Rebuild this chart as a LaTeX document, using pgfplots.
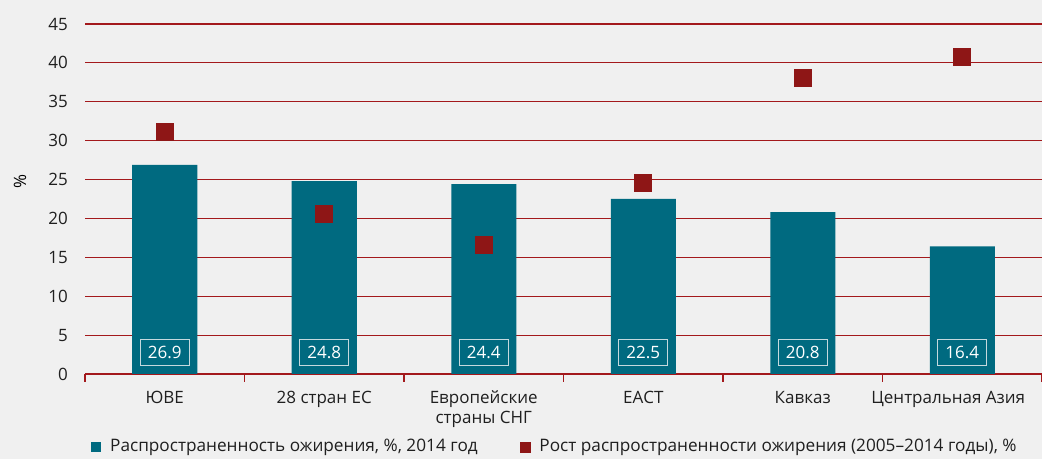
\documentclass[border=0pt]{standalone}
\usepackage{pgfplots}
\pgfplotsset{compat=1.18}
\usepackage{fontspec}
\setmainfont{Open Sans}
\definecolor{bgcol}{HTML}{F0F0F0}
\definecolor{barblue}{HTML}{006A80}
\definecolor{mkred}{HTML}{8E1616}
\definecolor{gridred}{HTML}{A3191C}
\definecolor{boxline}{HTML}{C5D9DE}
\begin{document}
\begin{tikzpicture}
\fill[bgcol] (0,0) rectangle (521pt,229.5pt);
\useasboundingbox (0,0) rectangle (521pt,229.5pt);
\begin{axis}[
  at={(42.5pt,42.5pt)}, anchor=south west,
  scale only axis, width=478.5pt, height=175pt,
  xmin=-0.5, xmax=5.5, ymin=0, ymax=45,
  ytick={0,5,...,45},
  xtick={0,1,2,3,4,5},
  xticklabels={ЮВЕ,28 стран ЕС,{Европейские\\страны СНГ},ЕАСТ,Кавказ,Центральная Азия\hspace*{14pt}},
  font=\fontsize{8.5}{10}\selectfont,
  tick label style={font=\fontsize{8.5}{10}\selectfont},
  /pgf/number format/assume math mode=true,
  xticklabel style={align=center, yshift=-5pt, text=black!88},
  yticklabel style={xshift=-5pt, text=black!88},
  axis x line*=bottom, axis y line*=left,
  y axis line style={draw=none},
  x axis line style={draw=gridred, line width=0.6pt},
  xtick style={draw=none}, ytick style={draw=none},
  extra x ticks={-0.5,0.5,1.5,2.5,3.5,4.5,5.5},
  extra x tick labels={},
  extra x tick style={xtick style={draw=gridred, line width=0.6pt}, major tick length=4pt, tick align=outside},
  ymajorgrids, grid style={draw=gridred, line width=0.55pt},
  ylabel={\%},
  every axis y label/.style={at={([xshift=-32.5pt]rel axis cs:0,0.551)}, rotate=90, anchor=center, font=\fontsize{8.5}{10}\selectfont},
  legend columns=2,
  legend style={at={(rel axis cs:0.492,-0.2086)}, anchor=center, draw=none, fill=none,
    font=\fontsize{8.6}{10}\selectfont, text=black!88,
    /tikz/every even column/.append style={column sep=19pt}},
  clip=false,
]
\addplot[ybar, bar width=32.5pt, fill=barblue, draw=none,
  legend image code/.code={\fill[barblue] (0pt,-2.5pt) rectangle (5pt,2.5pt); \path (7.5pt,0pt);}]
  coordinates {(0,26.9) (1,24.8) (2,24.4) (3,22.5) (4,20.8) (5,16.4)};
\addlegendentry{Распространенность ожирения, \%, 2014 год}
\addplot[only marks, mark=square*, mark size=4.25pt, color=mkred, mark options={fill=mkred, draw=mkred, line width=0pt},
  legend image code/.code={\fill[mkred] (0pt,-2.5pt) rectangle (5pt,2.5pt); \path (7.5pt,0pt);}]
  coordinates {(0,31.1) (1,20.6) (2,16.6) (3,24.5) (4,38.1) (5,40.8)};
\addlegendentry{Рост распространенности ожирения (2005–2014 годы), \%}
\addplot[draw=none, mark=none, forget plot, nodes near coords, point meta=explicit symbolic,
  nodes near coords style={anchor=center, draw=boxline, line width=0.5pt, text=white, fill=none,
    minimum width=24.5pt, minimum height=13pt, inner sep=1pt, font=\fontsize{8.5}{10}\selectfont}]
  coordinates {(0,2.8)[26.9] (1,2.8)[24.8] (2,2.8)[24.4] (3,2.8)[22.5] (4,2.8)[20.8] (5,2.8)[16.4]};
\end{axis}
\end{tikzpicture}
\end{document}
